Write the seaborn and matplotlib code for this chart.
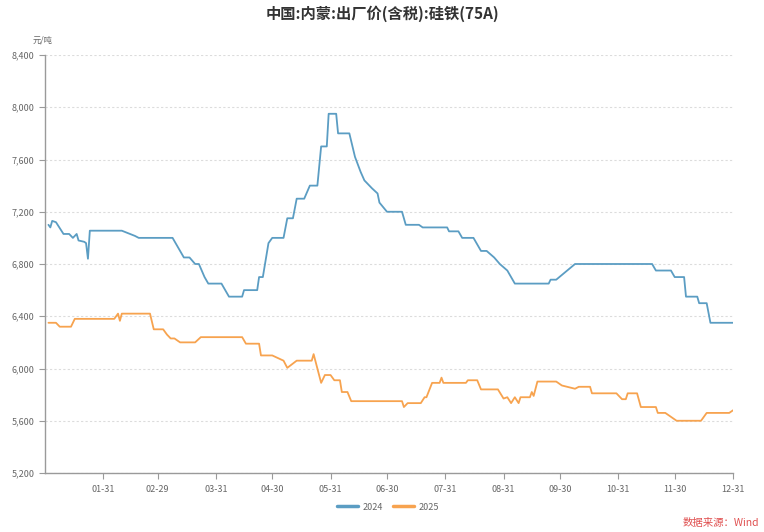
import pandas as pd
import numpy as np
import matplotlib
matplotlib.use("Agg")
import matplotlib.pyplot as plt
import matplotlib.dates as mdates
import matplotlib.ticker as mticker
import seaborn as sns

# 2024 series, key points (month-day, yuan/ton)
days_2024 = ["01-02", "01-03", "01-04", "01-06", "01-10", "01-13", "01-15", "01-17", "01-18",
             "01-21", "01-22", "01-23", "01-24", "02-10", "02-17", "02-19", "03-08", "03-12",
             "03-14", "03-17", "03-20", "03-22", "03-25", "03-27", "04-03", "04-07", "04-14",
             "04-15", "04-22", "04-23", "04-25", "04-28", "04-30", "05-06", "05-08", "05-11",
             "05-13", "05-17", "05-20", "05-24", "05-26", "05-29", "05-30", "06-03", "06-04",
             "06-10", "06-13", "06-16", "06-18", "06-22", "06-25", "06-26", "06-30", "07-08",
             "07-10", "07-17", "07-19", "08-01", "08-02", "08-07", "08-09", "08-15", "08-19",
             "08-22", "08-26", "08-29", "09-02", "09-04", "09-06", "09-24", "09-25", "09-28",
             "10-08", "11-18", "11-20", "11-28", "11-30", "12-05", "12-06", "12-12", "12-13",
             "12-17", "12-19", "12-31"]
price_2024 = [7100, 7080, 7130, 7120, 7030, 7030, 7000, 7030, 6980,
              6970, 6960, 6840, 7055, 7055, 7015, 7000, 7000, 6900,
              6850, 6850, 6800, 6800, 6700, 6650, 6650, 6550, 6550,
              6600, 6600, 6700, 6700, 6960, 7000, 7000, 7150, 7150,
              7300, 7300, 7400, 7400, 7700, 7700, 7950, 7950, 7800,
              7800, 7620, 7505, 7440, 7380, 7340, 7270, 7200, 7200,
              7100, 7100, 7080, 7080, 7050, 7050, 7000, 7000, 6900,
              6900, 6850, 6800, 6750, 6700, 6650, 6650, 6680, 6680,
              6800, 6800, 6750, 6750, 6700, 6700, 6550, 6550, 6500,
              6500, 6350, 6350]

# 2025 series
days_2025 = ["01-02", "01-06", "01-08", "01-14", "01-16", "02-06", "02-08", "02-09", "02-10",
             "02-25", "02-27", "03-03", "03-05", "03-07", "03-09", "03-12", "03-20", "03-23",
             "04-14", "04-16", "04-23", "04-24", "04-30", "05-06", "05-08", "05-13", "05-21",
             "05-22", "05-26", "05-28", "05-31", "06-02", "06-05", "06-06", "06-09", "06-11",
             "07-08", "07-09", "07-11", "07-18", "07-20", "07-21", "07-24", "07-28", "07-29",
             "07-30", "08-11", "08-12", "08-17", "08-19", "08-28", "08-31", "09-02", "09-04",
             "09-06", "09-08", "09-09", "09-14", "09-15", "09-16", "09-18", "09-28", "10-01",
             "10-08", "10-10", "10-16", "10-17", "10-30", "11-02", "11-04", "11-05", "11-10",
             "11-12", "11-20", "11-21", "11-25", "11-28", "12-01", "12-14", "12-17", "12-29",
             "12-31"]
price_2025 = [6350, 6350, 6320, 6320, 6380, 6380, 6420, 6365, 6420,
              6420, 6300, 6300, 6260, 6230, 6230, 6200, 6200, 6240,
              6240, 6190, 6190, 6100, 6100, 6060, 6005, 6060, 6060,
              6110, 5890, 5950, 5950, 5910, 5910, 5820, 5820, 5750,
              5750, 5705, 5735, 5735, 5780, 5780, 5890, 5890, 5930,
              5890, 5890, 5910, 5910, 5840, 5840, 5770, 5780, 5735,
              5780, 5735, 5780, 5780, 5820, 5790, 5900, 5900, 5870,
              5845, 5860, 5860, 5810, 5810, 5765, 5765, 5810, 5810,
              5705, 5705, 5660, 5660, 5630, 5600, 5600, 5660, 5660,
              5680]

years = ["2024", "2025"]
colors = ["#5b9dc3", "#f7a34f"]
yticks = [5200, 5600, 6000, 6400, 6800, 7200, 7600, 8000, 8400]
xtick_days = ["01-31", "02-29", "03-31", "04-30", "05-31", "06-30",
              "07-31", "08-31", "09-30", "10-31", "11-30", "12-31"]

title = "中国:内蒙:出厂价(含税):硅铁(75A)"
unit = "元/吨"
source = "数据来源：Wind"

# both years on a common (leap-year) calendar axis
df = pd.concat([
    pd.DataFrame({"date": pd.to_datetime(["2024-" + d for d in days_2024]),
                  "price": price_2024, "year": years[0]}),
    pd.DataFrame({"date": pd.to_datetime(["2024-" + d for d in days_2025]),
                  "price": price_2025, "year": years[1]}),
])

sns.set_style("white")
plt.rcParams["font.family"] = ["Noto Sans CJK SC", "DejaVu Sans"]

fig = plt.figure(figsize=(7.64, 5.32), dpi=100)
ax = fig.add_axes([45 / 764, 1 - 473 / 532, (733 - 45) / 764, (473 - 55) / 532])

sns.lineplot(data=df, x="date", y="price", hue="year", palette=dict(zip(years, colors)),
             estimator=None, sort=False, linewidth=1.3, ax=ax, legend=False)

ax.set_ylim(5200, 8400)
ax.set_yticks(yticks)
ax.yaxis.set_major_formatter(mticker.FuncFormatter(lambda v, p: f"{int(v):,}"))
ax.set_xlim(pd.Timestamp("2024-01-01") - pd.Timedelta(hours=20), pd.Timestamp("2024-12-31"))
ax.set_xticks(pd.to_datetime(["2024-" + d for d in xtick_days]))
ax.xaxis.set_major_formatter(mdates.DateFormatter("%m-%d"))
ax.set_xlabel("")
ax.set_ylabel("")

ax.grid(axis="y", linestyle=(0, (2, 2)), color="#dcdcdc", linewidth=0.8)
ax.grid(axis="x", visible=False)
for s in ["top", "right"]:
    ax.spines[s].set_visible(False)
for s in ["left", "bottom"]:
    ax.spines[s].set_color("#9a9a9a")
    ax.spines[s].set_linewidth(1.0)
ax.tick_params(axis="both", which="major", length=4, width=0.8, color="#9a9a9a",
               labelsize=6.5, labelcolor="#666666", direction="out", left=True, bottom=True)
ax.tick_params(axis="x", pad=5)

fig.text(0.5, 1 - 14 / 532, title, ha="center", va="center", fontsize=11,
         fontweight="bold", color="#333333")
fig.text(33 / 764, 1 - 40 / 532, unit, ha="left", va="center", fontsize=6, color="#666666")
fig.text(759 / 764, 1 - 523 / 532, source, ha="right", va="center", fontsize=7.5,
         color="#e05050")

handles = [plt.Line2D([], [], color=c, linewidth=2.5) for c in colors]
fig.legend(handles, years, loc="center", bbox_to_anchor=(0.508, 1 - 507 / 532), ncol=2,
           frameon=False, fontsize=6.5, handlelength=2.3, handletextpad=0.5,
           columnspacing=1.2, labelcolor="#666666")

fig.savefig("out.png", dpi=100)
